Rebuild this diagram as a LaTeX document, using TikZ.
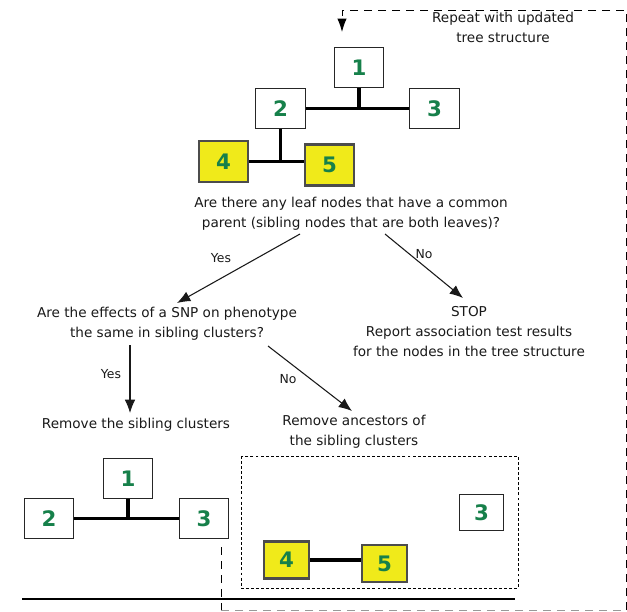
\documentclass[tikz,border=0pt]{standalone}
\usepackage{fontspec}
\setmainfont{DejaVu Sans}
\usetikzlibrary{positioning, arrows.meta}
\definecolor{leafyellow}{HTML}{F0EA1A}
\definecolor{idgreen}{HTML}{16804A}

\begin{document}
\begin{tikzpicture}[x=0.75pt,y=-0.75pt]
	\tikzstyle{box}=[draw=black!85,line width=0.9pt,fill=white,minimum width=37pt,minimum height=30.5pt,inner sep=0pt,font=\fontsize{16}{16}\selectfont\bfseries,text=idgreen]
	\tikzstyle{small}=[minimum width=33.5pt,minimum height=27.5pt]
	\tikzstyle{leaf}=[box,fill=leafyellow,draw=black!70,line width=1.8pt]
	\tikzstyle{branch}=[line width=2.3pt]
	\tikzstyle{txt}=[align=center,font=\fontsize{10.2}{15}\selectfont,text=black!90]
	\tikzstyle{lbl}=[font=\fontsize{9.3}{10}\selectfont,text=black!90]
	\tikzstyle{flow}=[-{Latex[length=10pt,width=8pt]},line width=0.8pt,black!90]
	\tikzstyle{loop}=[line width=0.7pt,dash pattern=on 6pt off 4.5pt]
	\useasboundingbox (0,0) rectangle (627,611);

	% tree before pruning
	\node[box](t1) at (359,67.5){1};
	\node[box](t2) at (280.5,108.5){2};
	\node[box](t3) at (434.5,108.5){3};
	\node[leaf](t4) at (223.5,161.5){4};
	\node[leaf](t5) at (329.5,165){5};
	\draw[branch] (t2) -- (t3);
	\draw[branch] (t1.south) -- (t1 |- t2);
	\draw[branch] (t4.east) -- (t4.east -| t5.west);
	\draw[branch] (t2.south) -- (t2 |- t4);

	% questions and outcomes
	\node[txt](q1) at (351,214){Are there any leaf nodes that have a common\\parent (sibling nodes that are both leaves)?};
	\node[txt](q2) at (167,323.5){Are the effects of a SNP on phenotype\\the same in sibling clusters?};
	\node[txt](stop) at (469,332){STOP\\Report association test results\\for the nodes in the tree structure};
	\node[txt](rm1) at (136,425){Remove the sibling clusters};
	\node[txt](rm2) at (354,432){Remove ancestors of\\the sibling clusters};
	\node[lbl](yes1) at (221,258){Yes};
	\node[lbl](no1) at (424,254){No};
	\node[lbl](yes2) at (111,374){Yes};
	\node[lbl](no2) at (288,379){No};

	\coordinate (a1) at (300,234);
	\coordinate (a2) at (177,303);
	\coordinate (b1) at (385,234);
	\coordinate (b2) at (463,298);
	\coordinate (c1) at (130,345);
	\coordinate (c2) at (130,413);
	\coordinate (d1) at (268,346);
	\coordinate (d2) at (352,411);
	\draw[flow] (a1) -- (a2);
	\draw[flow] (b1) -- (b2);
	\draw[flow] (c1) -- (c2);
	\draw[flow] (d1) -- (d2);

	% tree after removing siblings
	\node[box](l1) at (128,478.5){1};
	\node[box](l2) at (49,518.5){2};
	\node[box](l3) at (204,518.5){3};
	\draw[branch] (l2) -- (l3);
	\draw[branch] (l1.south) -- (l1 |- l2);

	% tree after removing ancestors
	\draw[dash pattern=on 2.2pt off 1.6pt,line width=0.6pt] (241,456) rectangle (518,588);
	\node[box,small](r3) at (481.5,512.5){3};
	\node[leaf,small](r4) at (286.5,560){4};
	\node[leaf,small](r5) at (384.5,563.5){5};
	\draw[branch] (r4.east) -- (r4.east -| r5.west);

	\draw[line width=1.3pt] (22,599) -- (515,599);

	% repeat loop
	\node[txt](rep) at (503,27){Repeat with updated\\tree structure};
	\coordinate (loopstart) at (221,547);
	\coordinate (looptip) at (342,32);
	\draw[loop] (loopstart) -- (221,610);
	\draw[loop,black!40] (221,610) -- (626,610);
	\draw[loop,-{Latex[length=10pt,width=7pt]}] (626,610) -- (626,10) -- (342,10) -- (looptip);
\end{tikzpicture}
\end{document}
